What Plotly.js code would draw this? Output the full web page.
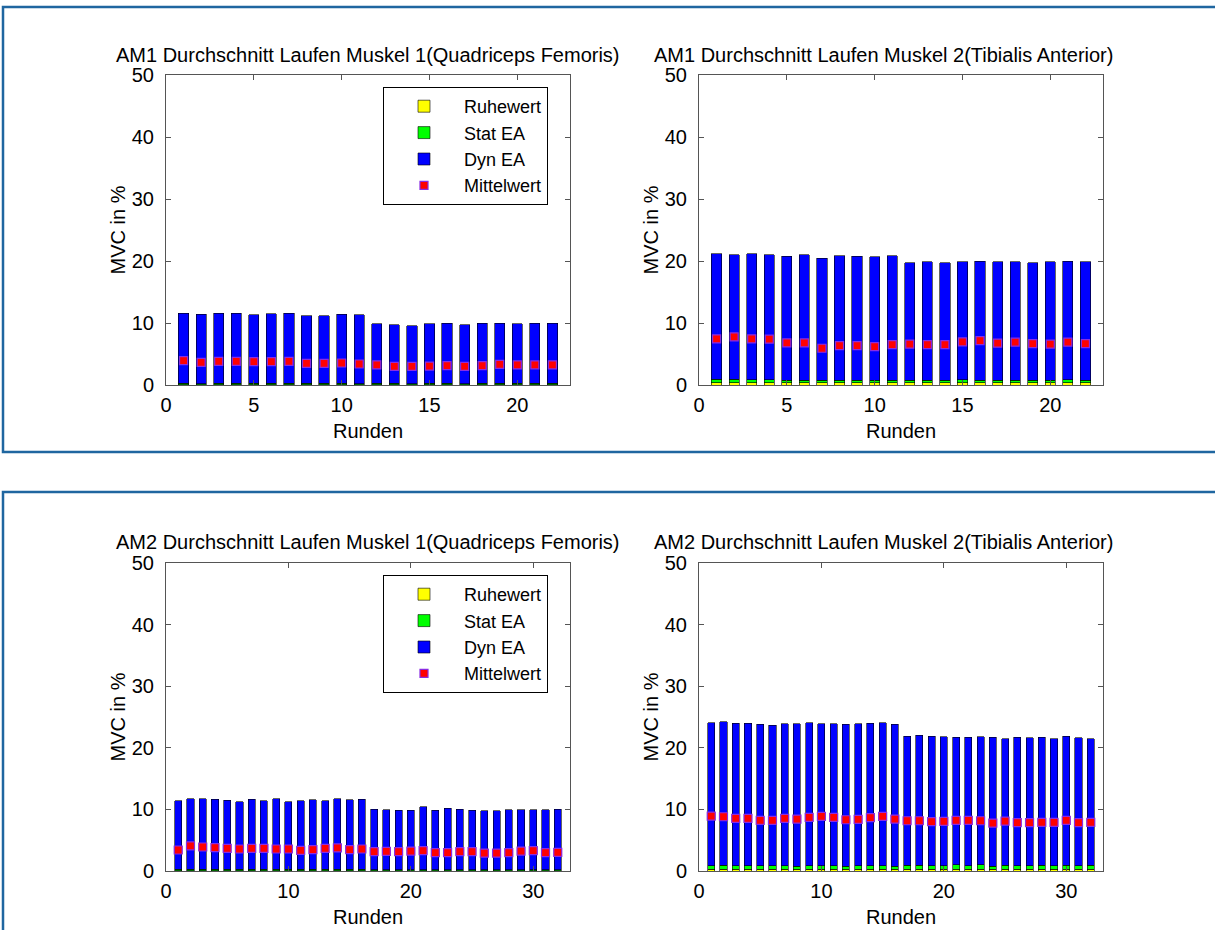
<!DOCTYPE html>
<html>
<head>
<meta charset="utf-8">
<script src="https://cdn.plot.ly/plotly-3.0.1.min.js"></script>
<style>html,body{margin:0;padding:0;background:#fff;}#chart{width:1215px;height:930px;}</style>
</head>
<body>
<div id="chart"></div>
<script>
// ---------- Data ----------
var rounds22 = [1,2,3,4,5,6,7,8,9,10,11,12,13,14,15,16,17,18,19,20,21,22];
var rounds32 = [1,2,3,4,5,6,7,8,9,10,11,12,13,14,15,16,17,18,19,20,21,22,23,24,25,26,27,28,29,30,31,32];

// AM1 Muskel 1 (Quadriceps Femoris)
var am1m1_ruhe = [0.05,0.05,0.05,0.05,0.05,0.05,0.05,0.05,0.05,0.05,0.05,0.05,0.05,0.05,0.05,0.05,0.05,0.05,0.05,0.05,0.05,0.05];
var am1m1_stat = [0.2,0.15,0.2,0.2,0.2,0.2,0.2,0.2,0.2,0.2,0.15,0.2,0.2,0.15,0.2,0.2,0.15,0.2,0.2,0.2,0.25,0.2];
var am1m1_dyn  = [11.3,11.25,11.3,11.3,11.1,11.25,11.3,10.95,10.95,11.15,11.1,9.65,9.5,9.35,9.65,9.7,9.5,9.7,9.75,9.65,9.65,9.7];
var am1m1_mean = [3.92,3.66,3.82,3.82,3.76,3.76,3.82,3.49,3.49,3.55,3.39,3.23,3.01,3.01,3.06,3.12,3.01,3.12,3.33,3.23,3.23,3.23];

// AM1 Muskel 2 (Tibialis Anterior)
var am1m2_ruhe = [0.35,0.35,0.35,0.35,0.35,0.35,0.35,0.35,0.35,0.35,0.35,0.35,0.35,0.35,0.35,0.35,0.35,0.35,0.35,0.35,0.35,0.35];
var am1m2_stat = [0.55,0.55,0.5,0.5,0.4,0.45,0.4,0.4,0.4,0.4,0.4,0.45,0.4,0.4,0.5,0.45,0.4,0.45,0.4,0.45,0.5,0.45];
var am1m2_dyn  = [20.23,20.12,20.28,20.17,20.0,20.22,19.68,20.11,20.0,19.9,20.11,18.93,19.09,18.98,18.99,19.15,19.14,19.04,18.98,19.04,19.15,19.04];
var am1m2_mean = [7.44,7.76,7.44,7.39,6.79,6.79,5.93,6.36,6.36,6.2,6.52,6.58,6.52,6.52,6.95,7.17,6.74,6.9,6.68,6.58,6.9,6.68];

// AM2 Muskel 1 (Quadriceps Femoris)
var am2m1_ruhe = [0.05,0.05,0.05,0.05,0.05,0.05,0.05,0.05,0.05,0.05,0.05,0.05,0.05,0.05,0.05,0.05,0.05,0.05,0.05,0.05,0.05,0.05,0.05,0.05,0.05,0.05,0.05,0.05,0.05,0.05,0.05,0.05];
var am2m1_stat = [0.25,0.25,0.25,0.25,0.25,0.25,0.25,0.25,0.25,0.25,0.25,0.25,0.25,0.25,0.25,0.25,0.12,0.12,0.12,0.12,0.12,0.12,0.12,0.12,0.12,0.12,0.12,0.12,0.12,0.12,0.12,0.12];
var am2m1_dyn  = [11.07,11.46,11.4,11.35,11.18,10.91,11.35,11.07,11.4,10.96,11.13,11.24,11.07,11.46,11.24,11.35,9.88,9.78,9.72,9.72,10.27,9.67,10.05,9.88,9.72,9.61,9.61,9.78,9.78,9.78,9.78,9.83];
var am2m1_mean = [3.41,4.07,3.9,3.79,3.68,3.57,3.68,3.68,3.57,3.57,3.35,3.46,3.68,3.74,3.46,3.57,3.13,3.19,3.13,3.24,3.3,2.97,2.97,3.13,3.13,2.91,2.91,2.97,3.24,3.3,2.97,3.02];

// AM2 Muskel 2 (Tibialis Anterior)
var am2m2_ruhe = [0.3,0.3,0.3,0.3,0.3,0.3,0.3,0.3,0.3,0.3,0.3,0.3,0.3,0.3,0.3,0.3,0.3,0.3,0.3,0.3,0.3,0.3,0.3,0.3,0.3,0.3,0.3,0.3,0.3,0.3,0.3,0.3];
var am2m2_stat = [0.55,0.6,0.55,0.55,0.55,0.55,0.55,0.5,0.55,0.55,0.55,0.5,0.55,0.55,0.55,0.5,0.65,0.6,0.55,0.55,0.7,0.55,0.7,0.5,0.6,0.55,0.55,0.6,0.55,0.65,0.55,0.6];
var am2m2_dyn  = [23.25,23.3,23.15,23.15,22.95,22.85,23.05,23.1,23.25,23.05,23.05,23.0,23.05,23.15,23.25,23.0,20.95,21.1,21.05,20.95,20.7,20.85,20.8,20.9,20.6,20.85,20.75,20.8,20.65,20.95,20.75,20.6];
var am2m2_mean = [8.92,8.81,8.54,8.54,8.22,8.22,8.54,8.43,8.7,8.86,8.7,8.32,8.38,8.65,8.86,8.43,8.16,8.16,8.0,8.05,8.22,8.22,8.16,7.78,8.11,7.84,7.84,7.89,7.89,8.22,7.84,7.89];

var seriesNames = ['Ruhewert','Stat EA','Dyn EA','Mittelwert'];
var titles = [
  'AM1 Durchschnitt Laufen Muskel 1(Quadriceps Femoris)',
  'AM1 Durchschnitt Laufen Muskel 2(Tibialis Anterior)',
  'AM2 Durchschnitt Laufen Muskel 1(Quadriceps Femoris)',
  'AM2 Durchschnitt Laufen Muskel 2(Tibialis Anterior)'
];

// ---------- Styling ----------
var FONT = 'Liberation Sans, Arial, sans-serif';
var FS = 20;
var colRuhe = '#FFFF00', colStat = '#00FF00', colDyn = '#0000FF';
var barW = 0.58;

function panel(idx, x, ruhe, stat, dyn, mean, legendName, showLeg) {
  var xa = idx === 1 ? 'x' : 'x' + idx;
  var ya = idx === 1 ? 'y' : 'y' + idx;
  var common = {type: 'bar', x: x, xaxis: xa, yaxis: ya, width: barW, legend: legendName, showlegend: showLeg, hoverinfo: 'skip'};
  return [
    Object.assign({}, common, {name: seriesNames[0], y: ruhe, marker: {color: colRuhe, line: {color: '#000', width: 0.6}}}),
    Object.assign({}, common, {name: seriesNames[1], y: stat, marker: {color: colStat, line: {color: '#000', width: 0.6}}}),
    Object.assign({}, common, {name: seriesNames[2], y: dyn, marker: {color: colDyn, line: {color: '#000', width: 0.6}}}),
    {type: 'scatter', mode: 'markers', name: seriesNames[3], x: x, y: mean, xaxis: xa, yaxis: ya,
     legend: legendName, showlegend: showLeg, hoverinfo: 'skip',
     marker: {symbol: 'square', size: 8, color: '#FF0000', line: {color: '#8A2BE2', width: 1.2}}}
  ];
}

var data = [].concat(
  panel(1, rounds22, am1m1_ruhe, am1m1_stat, am1m1_dyn, am1m1_mean, 'legend', true),
  panel(2, rounds22, am1m2_ruhe, am1m2_stat, am1m2_dyn, am1m2_mean, 'legend', false),
  panel(3, rounds32, am2m1_ruhe, am2m1_stat, am2m1_dyn, am2m1_mean, 'legend2', true),
  panel(4, rounds32, am2m2_ruhe, am2m2_stat, am2m2_dyn, am2m2_mean, 'legend2', false)
);

var W = 1215, H = 930;
function px(v) { return v / W; }
function py(v) { return 1 - v / H; }

var axisLine = '#555555';
function xAxis(domain, range, dtick, anchor) {
  return {domain: domain, range: range, dtick: dtick, tick0: 0, anchor: anchor,
    showline: true, linecolor: axisLine, linewidth: 1, mirror: 'ticks',
    ticks: 'inside', ticklen: 5, tickcolor: axisLine, showgrid: false, zeroline: false,
    ticklabelstandoff: 2,
    tickfont: {family: FONT, size: FS, color: '#000'},
    title: {text: 'Runden', font: {family: FONT, size: FS, color: '#000'}, standoff: 8},
    fixedrange: true};
}
function yAxis(domain, anchor) {
  return {domain: domain, range: [0, 50], dtick: 10, anchor: anchor,
    showline: true, linecolor: axisLine, linewidth: 1, mirror: 'ticks',
    ticks: 'inside', ticklen: 5, tickcolor: axisLine, showgrid: false, zeroline: false,
    ticklabelstandoff: 7,
    tickfont: {family: FONT, size: FS, color: '#000'},
    title: {text: 'MVC in %', font: {family: FONT, size: FS, color: '#000'}, standoff: 0},
    fixedrange: true};
}

var xdL = [px(166), px(570)], xdR = [px(699), px(1103)];
var ydT = [py(385), py(75)], ydB = [py(871), py(563)];

var frameColor = '#1F66A0';
function legendBox(topPx) {
  return {x: px(383), y: py(topPx), xanchor: 'left', yanchor: 'top', traceorder: 'normal',
    bgcolor: '#fff', bordercolor: '#000', borderwidth: 1, itemwidth: 70,
    font: {family: FONT, size: 18, color: '#000'}};
}
function titleAnn(text, xPx, yPx) {
  return {text: text, xref: 'paper', yref: 'paper', x: px(xPx), y: py(yPx), xanchor: 'center', yanchor: 'middle',
    showarrow: false, font: {family: FONT, size: FS, color: '#000'}};
}

var layout = {
  width: W, height: H,
  margin: {l: 0, r: 0, t: 0, b: 0},
  paper_bgcolor: '#fff', plot_bgcolor: '#fff',
  barmode: 'stack',
  font: {family: FONT, size: FS, color: '#000'},
  xaxis: xAxis(xdL, [0, 23], 5, 'y'),
  yaxis: yAxis(ydT, 'x'),
  xaxis2: xAxis(xdR, [0, 23], 5, 'y2'),
  yaxis2: yAxis(ydT, 'x2'),
  xaxis3: xAxis(xdL, [0, 33], 10, 'y3'),
  yaxis3: yAxis(ydB, 'x3'),
  xaxis4: xAxis(xdR, [0, 33], 10, 'y4'),
  yaxis4: yAxis(ydB, 'x4'),
  legend: legendBox(87),
  legend2: legendBox(575),
  annotations: [
    titleAnn(titles[0], 368, 55),
    titleAnn(titles[1], 884, 55),
    titleAnn(titles[2], 368, 542),
    titleAnn(titles[3], 884, 542)
  ],
  shapes: [
    {type: 'rect', xref: 'paper', yref: 'paper', x0: px(3), x1: 1.02, y0: py(452), y1: py(7), line: {color: frameColor, width: 2.5}, fillcolor: 'rgba(0,0,0,0)', layer: 'above'},
    {type: 'rect', xref: 'paper', yref: 'paper', x0: px(3), x1: 1.02, y0: -0.02, y1: py(492), line: {color: frameColor, width: 2.5}, fillcolor: 'rgba(0,0,0,0)', layer: 'above'}
  ]
};

Plotly.newPlot('chart', data, layout, {displayModeBar: false, responsive: false});
</script>
</body>
</html>
